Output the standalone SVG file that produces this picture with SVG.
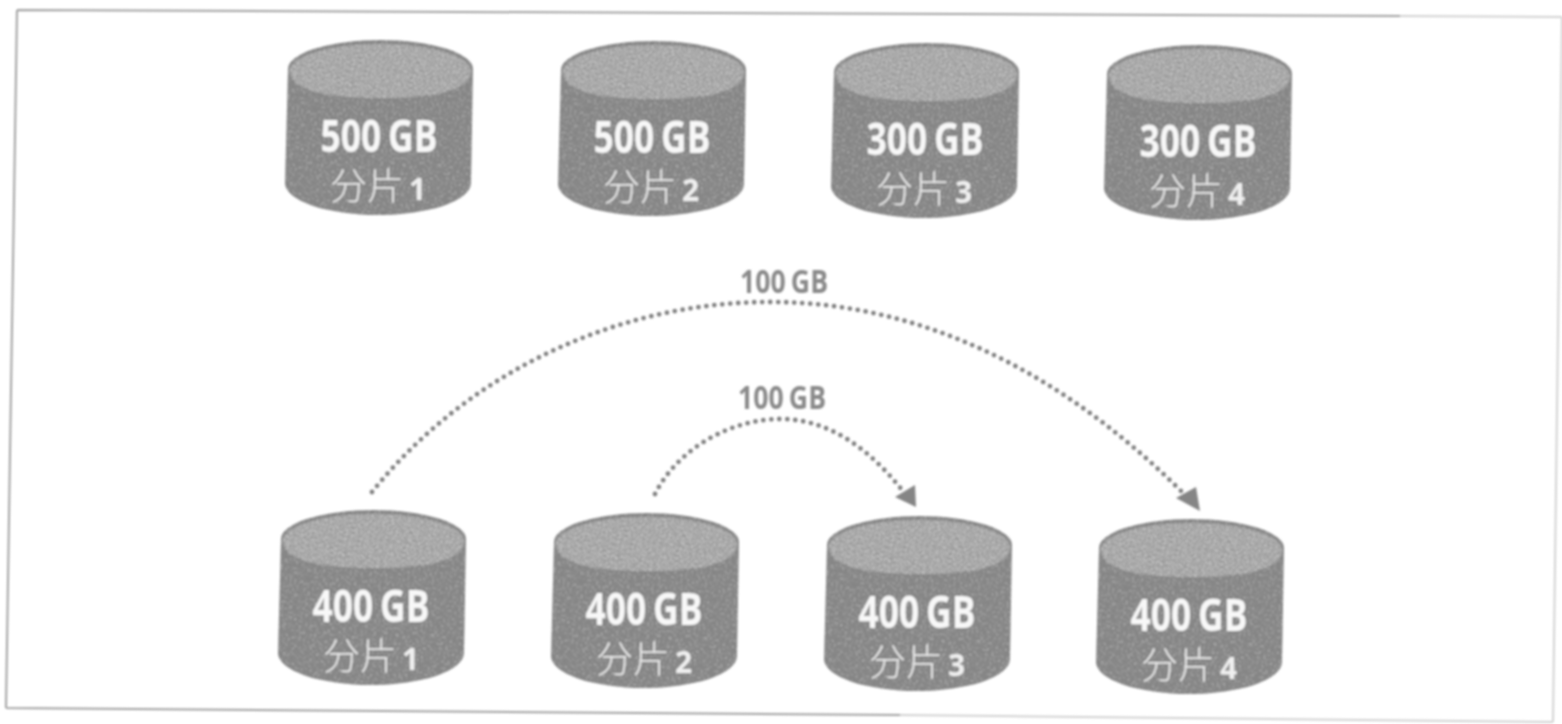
<svg xmlns="http://www.w3.org/2000/svg" width="1562" height="724" viewBox="0 0 1562 724">
<style>
.body{fill:#858585;filter:url(#speck)}
.top{fill:#989898;filter:url(#speck2)}
.size{font-family:"Open Sans","Noto Sans",sans-serif;font-weight:700;font-size:44px;word-spacing:-3px;fill:#f8f8f8;text-anchor:middle}
.shard{font-family:"Noto Sans CJK SC","Noto Sans",sans-serif;font-weight:300;font-size:37px;fill:#e8e8e8}
.num{font-family:"Open Sans",sans-serif;font-weight:700;font-size:30px;fill:#f0f0f0}
.lab{font-family:"Open Sans","Noto Sans",sans-serif;font-weight:700;font-size:32px;word-spacing:-2px;fill:#8a8a8a;text-anchor:middle}
.dot{fill:none;stroke:#808080;stroke-width:4.8;stroke-linecap:round;stroke-dasharray:0 8}
.head{fill:#858585}
.frame{fill:none;stroke:#a2a2a2;stroke-width:2}
.faint{fill:none;stroke:#d2d2d2;stroke-width:2}
</style>
<defs>
<filter id="speck" x="-5%" y="-5%" width="110%" height="110%">
<feTurbulence type="fractalNoise" baseFrequency="0.45" numOctaves="2" seed="3" result="n"/>
<feColorMatrix in="n" type="matrix" values="0 0 0 0 0.9  0 0 0 0 0.9  0 0 0 0 0.9  1.0 0 0 0 -0.52" result="w"/>
<feComposite in="w" in2="SourceGraphic" operator="in" result="c"/>
<feMerge><feMergeNode in="SourceGraphic"/><feMergeNode in="c"/></feMerge>
</filter>
<filter id="speck2" x="-5%" y="-5%" width="110%" height="110%">
<feTurbulence type="fractalNoise" baseFrequency="0.6" numOctaves="2" seed="8" result="n"/>
<feColorMatrix in="n" type="matrix" values="0 0 0 0 0.85  0 0 0 0 0.85  0 0 0 0 0.85  1.5 0 0 0 -0.6" result="w"/>
<feComposite in="w" in2="SourceGraphic" operator="in" result="c"/>
<feMerge><feMergeNode in="SourceGraphic"/><feMergeNode in="c"/></feMerge>
</filter>
<filter id="soft" x="-2%" y="-2%" width="104%" height="104%"><feGaussianBlur stdDeviation="0.8"/></filter>
<g id="cyl">
<path class="body" d="M2,29 A92.5,29 0 0 1 187,29 L185,143 A93,32 0 0 1 -1,143 Z"/>
<path class="top" d="M4,31 A90.5,27 0 0 1 185,31 Q184,58 94,58 Q5,58 4,31 Z"/>
</g>
</defs>
<g filter="url(#soft)">
<g id="frame">
<path class="frame" d="M17,10 L1400,16 M6,708 L900,715 M17,10 L6,708"/>
<path class="faint" d="M1400,16 L1562,17 M900,715 L1553,722 M1562,17 L1553,722"/>
</g>
<g id="connectors">
<path class="dot" d="M372,492 C470,370 620,302 770,302 C930,302 1070,380 1183,493"/>
<path class="head" d="M1176,498 L1196,487 L1200,511 Z"/>
<path class="dot" d="M655,494 C680,445 735,419 780,419 C830,419 870,450 902,490"/>
<path class="head" d="M895,497 L915,485 L916,507 Z"/>
</g>
<text class="lab" x="784" y="293" textLength="88" lengthAdjust="spacingAndGlyphs">100 GB</text>
<text class="lab" x="782" y="409" textLength="88" lengthAdjust="spacingAndGlyphs">100 GB</text>
<g id="top1" transform="translate(286,40)"><use href="#cyl"/><text class="size" x="93" y="112" textLength="117" lengthAdjust="spacingAndGlyphs">500 GB</text><text class="shard" x="44" y="160">分片<tspan class="num" dx="5">1</tspan></text></g>
<g id="top2" transform="translate(559,41)"><use href="#cyl"/><text class="size" x="93" y="112" textLength="117" lengthAdjust="spacingAndGlyphs">500 GB</text><text class="shard" x="44" y="160">分片<tspan class="num" dx="5">2</tspan></text></g>
<g id="top3" transform="translate(832,43)"><use href="#cyl"/><text class="size" x="93" y="112" textLength="117" lengthAdjust="spacingAndGlyphs">300 GB</text><text class="shard" x="44" y="160">分片<tspan class="num" dx="5">3</tspan></text></g>
<g id="top4" transform="translate(1105,45)"><use href="#cyl"/><text class="size" x="93" y="112" textLength="117" lengthAdjust="spacingAndGlyphs">300 GB</text><text class="shard" x="44" y="160">分片<tspan class="num" dx="5">4</tspan></text></g>
<g id="bot1" transform="translate(279,510)"><use href="#cyl"/><text class="size" x="92" y="112" textLength="117" lengthAdjust="spacingAndGlyphs">400 GB</text><text class="shard" x="44" y="160">分片<tspan class="num" dx="5">1</tspan></text></g>
<g id="bot2" transform="translate(552,513)"><use href="#cyl"/><text class="size" x="92" y="112" textLength="117" lengthAdjust="spacingAndGlyphs">400 GB</text><text class="shard" x="44" y="160">分片<tspan class="num" dx="5">2</tspan></text></g>
<g id="bot3" transform="translate(825,516)"><use href="#cyl"/><text class="size" x="92" y="112" textLength="117" lengthAdjust="spacingAndGlyphs">400 GB</text><text class="shard" x="44" y="160">分片<tspan class="num" dx="5">3</tspan></text></g>
<g id="bot4" transform="translate(1097,519)"><use href="#cyl"/><text class="size" x="92" y="112" textLength="117" lengthAdjust="spacingAndGlyphs">400 GB</text><text class="shard" x="44" y="160">分片<tspan class="num" dx="5">4</tspan></text></g>
</g>
</svg>
